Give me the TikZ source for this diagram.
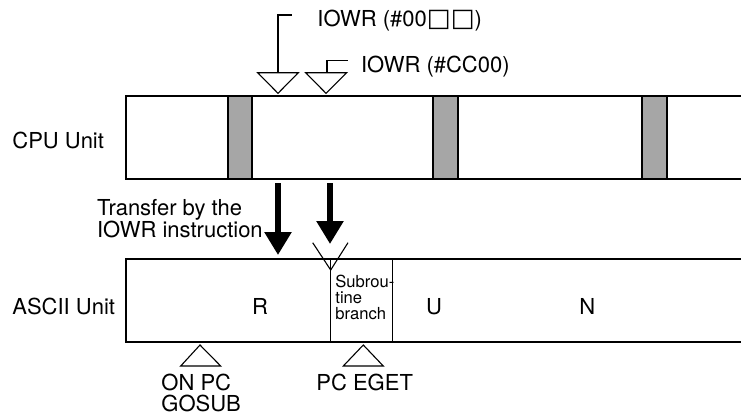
\documentclass[tikz,border=0pt]{standalone}
\usepackage{fontspec}
\setmainfont{TeX Gyre Heros}
\newfontfamily\symfont{DejaVu Sans}
\usetikzlibrary{arrows.meta}
\definecolor{bargray}{HTML}{A6A6A6}
\newcommand{\wsq}{\raisebox{0.3pt}{\scalebox{1.15}{\symfont □}}}
\begin{document}
\begin{tikzpicture}[x=0.5pt,y=-0.5pt,
  lbl/.style={font=\fontsize{11}{11}\selectfont, inner sep=0pt, anchor=base west},
  small/.style={font=\fontsize{8.3}{8}\selectfont, inner sep=0pt, anchor=base west},
  unitline/.style={line width=1.15pt},
  thinline/.style={line width=0.55pt},
  bar/.style={fill=bargray, draw=black, line width=0.6pt},
  bigarrow/.style={line width=2.8pt, -{Triangle[length=11.5pt 0 0, width=13pt 0 0]}},
  tri/.style={draw=black, line width=0.55pt}]
\useasboundingbox (0,0) rectangle (741,414);

% ---- CPU Unit ----
\coordinate (cpuTL) at (126,96);
\coordinate (cpuBL) at (126,179);
\coordinate (cpuTR) at (742,96);
\coordinate (cpuBR) at (742,179);
\draw[bar] (228,96) rectangle (252,179);
\draw[bar] (433,96) rectangle (458,179);
\draw[bar] (642,96) rectangle (667,179);
\draw[unitline] (cpuTR) -- (cpuTL) -- (cpuBL) -- (cpuBR);
\node[lbl] (cpulbl) at (12,148.3) {CPU Unit};

% ---- ASCII Unit ----
\coordinate (asTL) at (126,259);
\coordinate (asBL) at (126,342);
\coordinate (asTR) at (742,259);
\coordinate (asBR) at (742,342);
\draw[thinline] (330.7,259) -- (330.7,342);
\draw[thinline] (392.7,259) -- (392.7,342);
\draw[unitline] (asTR) -- (asTL) -- (asBL) -- (asBR);
\node[lbl] (aslbl) at (12,314) {ASCII Unit};
\node[lbl] (R) at (251.7,314) {R};
\node[lbl] (U) at (425.7,314) {U};
\node[lbl] (N) at (579,314) {N};
\node[small] (sub1) at (335,287.7) {Subrou-};
\node[small] (sub2) at (335,303.5) {tine};
\node[small] (sub3) at (335,319.5) {branch};

% ---- IOWR triangles ----
\coordinate (t1) at (278,93.3);
\coordinate (t2) at (326,93.3);
\draw[tri] (257.7,72.7) -- (298.3,72.7) -- (t1) -- cycle;
\draw[tri] (305.7,72.7) -- (346.7,72.7) -- (t2) -- cycle;
\coordinate (l1a) at (278,72.7);
\coordinate (l1b) at (278,15);
\coordinate (l1c) at (292.3,15);
\coordinate (l2a) at (327,72.7);
\coordinate (l2b) at (327,60.7);
\coordinate (l2c) at (348.3,60.7);
\draw[thinline] (l1a) -- (l1b) -- (l1c);
\draw[thinline] (l2a) -- (l2b) -- (l2c);
\node[lbl] (iowr1) at (317,26.7) {IOWR (\#00\wsq\wsq)};
\node[lbl] (iowr2) at (360.7,72.7) {IOWR (\#CC00)};

% ---- transfer arrows ----
\coordinate (a1s) at (278,183);
\coordinate (a1e) at (278,255);
\coordinate (a2s) at (330,183);
\coordinate (a2e) at (330,244);
\draw[bigarrow] (a1s) -- (a1e);
\draw[bigarrow] (a2s) -- (a2e);
\node[lbl] (tr1) at (96.7,215) {Transfer by the};
\node[lbl] (tr2) at (96.7,237.3) {IOWR instruction};

% ---- V mark ----
\coordinate (vtip) at (330.7,270);
\draw[thinline] (312.7,242.7) -- (vtip) -- (348,242.7);

% ---- bottom triangles ----
\coordinate (b1) at (200,345);
\coordinate (b2) at (363.3,345);
\draw[tri] (b1) -- (220.7,366) -- (180.7,366) -- cycle;
\draw[tri] (b2) -- (383.3,366) -- (343.3,366) -- cycle;
\node[lbl] (on1) at (161,390) {ON PC};
\node[lbl] (on2) at (161,411) {GOSUB};
\node[lbl] (eget) at (316,390) {PC EGET};
\end{tikzpicture}
\end{document}
